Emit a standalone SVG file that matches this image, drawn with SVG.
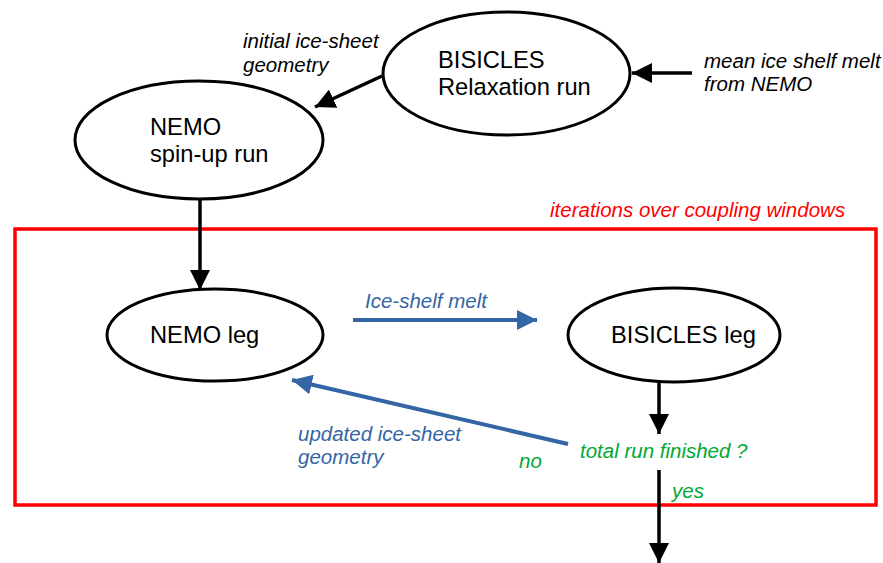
<svg xmlns="http://www.w3.org/2000/svg" width="883" height="563" viewBox="0 0 883 563">
<style>
.node ellipse{fill:#fff;stroke:#000;stroke-width:3}
.nt{font-family:"Liberation Sans",Arial,sans-serif;font-size:23.7px;fill:#000}
.lbl{font-family:"Liberation Sans",Arial,sans-serif;font-size:20.5px;font-style:italic}
.k{fill:#000}.b{fill:#3465a4}.g{fill:#00a933}.r{fill:#ff0000}
.ck{stroke:#000;stroke-width:3.5;fill:none}
.cb{stroke:#3465a4;stroke-width:4;fill:none}
</style>
<defs>
<marker id="ak" viewBox="0 0 20 20" refX="20" refY="10" markerWidth="20" markerHeight="20" markerUnits="userSpaceOnUse" orient="auto"><path d="M0,0 L20,10 L0,20 z" fill="#000"/></marker>
<marker id="ab" viewBox="0 0 20 20" refX="20" refY="10" markerWidth="20" markerHeight="20" markerUnits="userSpaceOnUse" orient="auto"><path d="M0,0 L20,10 L0,20 z" fill="#3465a4"/></marker>
</defs>
<rect x="15" y="229" width="861" height="276" fill="none" stroke="#ff0000" stroke-width="3.5"/>
<text class="lbl r" x="550" y="217">iterations over coupling windows</text>
<g id="connectors">
<line class="ck" x1="382" y1="76" x2="315" y2="107" marker-end="url(#ak)"/>
<line class="ck" x1="692" y1="73" x2="632" y2="73" marker-end="url(#ak)"/>
<line class="ck" x1="200" y1="198" x2="200" y2="290" marker-end="url(#ak)"/>
<line class="cb" x1="353" y1="320" x2="537" y2="320" marker-end="url(#ab)"/>
<line class="ck" x1="659" y1="382" x2="659" y2="434" marker-end="url(#ak)"/>
<line class="cb" x1="568" y1="444" x2="292" y2="380" marker-end="url(#ab)"/>
<line class="ck" x1="659" y1="470" x2="659" y2="563" marker-end="url(#ak)"/>
</g>
<g id="bisicles-relax" class="node"><ellipse cx="506.5" cy="73.5" rx="123.5" ry="61.5"/><text class="nt" x="438" y="68">BISICLES</text><text class="nt" x="438" y="95">Relaxation run</text></g>
<g id="nemo-spinup" class="node"><ellipse cx="199" cy="140" rx="124" ry="59"/><text class="nt" x="150" y="135">NEMO</text><text class="nt" x="150" y="162">spin-up run</text></g>
<g id="nemo-leg" class="node"><ellipse cx="215" cy="335" rx="108" ry="46"/><text class="nt" x="150" y="343">NEMO leg</text></g>
<g id="bisicles-leg" class="node"><ellipse cx="674" cy="335" rx="106" ry="47"/><text class="nt" x="611" y="343">BISICLES leg</text></g>
<g id="labels">
<text class="lbl k" x="243" y="48">initial ice-sheet</text>
<text class="lbl k" x="243" y="72">geometry</text>
<text class="lbl k" x="704" y="68">mean ice shelf melt</text>
<text class="lbl k" x="704" y="91">from NEMO</text>
<text class="lbl b" x="365" y="308">Ice-shelf melt</text>
<text class="lbl b" x="298" y="441">updated ice-sheet</text>
<text class="lbl b" x="298" y="464">geometry</text>
<text class="lbl g" x="580" y="458">total run finished ?</text>
<text class="lbl g" x="519" y="468">no</text>
<text class="lbl g" x="672" y="498">yes</text>
</g>
</svg>
